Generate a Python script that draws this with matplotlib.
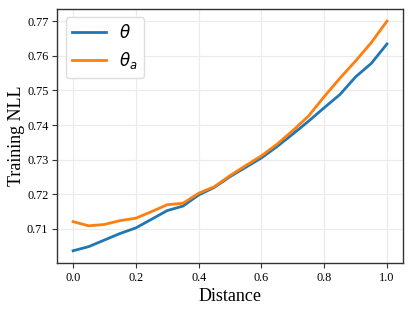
import numpy as np
import matplotlib
matplotlib.use("Agg")
from matplotlib import pyplot as plt

distance = np.round(np.arange(0, 1.0001, 0.05), 2)
nll_theta = [0.7037, 0.7049, 0.7068, 0.7087, 0.7103, 0.7128, 0.7153, 0.7166, 0.7198, 0.7220, 0.7251,
             0.7278, 0.7305, 0.7338, 0.7374, 0.7411, 0.7450, 0.7488, 0.7539, 0.7578, 0.7634]
nll_theta_a = [0.7121, 0.7109, 0.7113, 0.7124, 0.7131, 0.7150, 0.7170, 0.7174, 0.7203, 0.7222, 0.7254,
               0.7283, 0.7311, 0.7345, 0.7384, 0.7426, 0.7482, 0.7535, 0.7585, 0.7638, 0.7700]
yticks = [0.71, 0.72, 0.73, 0.74, 0.75, 0.76, 0.77]

plt.rcParams['font.family'] = ['Liberation Serif', 'DejaVu Serif']
plt.rcParams['mathtext.fontset'] = 'dejavusans'

fig, ax = plt.subplots(figsize=(4.13, 3.10), dpi=100)
fig.subplots_adjust(left=0.139, right=0.975, top=0.971, bottom=0.152)

ax.plot(distance, nll_theta, color='#1f77b4', lw=2, label=r'$\theta$')
ax.plot(distance, nll_theta_a, color='#ff7f0e', lw=2, label=r'$\theta_a$')

ax.set_yticks(yticks)
ax.set_ylim(0.7002, 0.7735)
ax.grid(True, color='#ebebeb', lw=0.8)
for s in ax.spines.values():
    s.set_color('#333333')
    s.set_linewidth(1.0)
ax.tick_params(labelsize=8.8, length=3.5, color='#333333', pad=3)
ax.set_xlabel('Distance', fontsize=13, labelpad=3)
ax.set_ylabel('Training NLL', fontsize=13, labelpad=1)
leg = ax.legend(loc='upper left', prop={'family': 'DejaVu Sans', 'size': 12},
                handlelength=2.0, framealpha=1)
leg.get_frame().set_edgecolor('#dddddd')

fig.savefig('out.png', dpi=100)
